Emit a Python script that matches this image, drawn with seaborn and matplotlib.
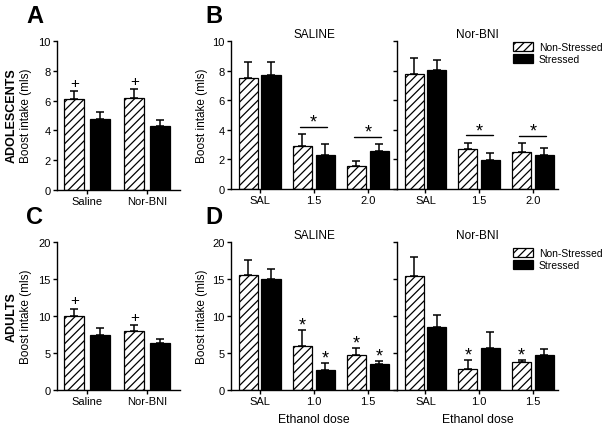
import numpy as np
import pandas as pd
import matplotlib
matplotlib.use("Agg")
import matplotlib.pyplot as plt
from matplotlib.patches import Patch
import seaborn as sns

sns.set_style("ticks")
plt.rcParams['font.family'] = ['Liberation Sans', 'DejaVu Sans']
plt.rcParams['hatch.linewidth'] = 0.9
plt.rcParams['axes.linewidth'] = 1.0
for k in ['text.color', 'axes.labelcolor', 'xtick.color', 'ytick.color', 'axes.edgecolor']:
    plt.rcParams[k] = 'black'

#%% data
groups = ['Non-Stressed', 'Stressed']
treat = ['Saline', 'Nor-BNI']

# A - adolescents, intake
A_ns = [6.1, 6.15]
A_ns_err = [0.55, 0.6]
A_s = [4.75, 4.3]
A_s_err = [0.5, 0.4]

# C - adults, intake
C_ns = [10.05, 8.0]
C_ns_err = [0.95, 0.8]
C_s = [7.45, 6.35]
C_s_err = [0.95, 0.55]

# B - adolescents, ethanol dose
B_doses = ['SAL', '1.5', '2.0']
B_sal_ns = [7.5, 2.9, 1.58]
B_sal_ns_err = [1.1, 0.8, 0.28]
B_sal_s = [7.7, 2.33, 2.56]
B_sal_s_err = [0.9, 0.7, 0.47]
B_nor_ns = [7.8, 2.69, 2.49]
B_nor_ns_err = [1.07, 0.45, 0.6]
B_nor_s = [8.03, 1.99, 2.28]
B_nor_s_err = [0.7, 0.41, 0.52]

# D - adults, ethanol dose
D_doses = ['SAL', '1.0', '1.5']
D_sal_ns = [15.5, 5.92, 4.74]
D_sal_ns_err = [2.1, 2.2, 0.91]
D_sal_s = [15.0, 2.73, 3.5]
D_sal_s_err = [1.3, 0.91, 0.46]
D_nor_ns = [15.4, 2.87, 3.78]
D_nor_ns_err = [2.6, 1.13, 0.27]
D_nor_s = [8.47, 5.65, 4.69]
D_nor_s_err = [1.68, 2.15, 0.87]

W, H = 612, 431
fig = plt.figure(figsize=(W / 100, H / 100), dpi=100)


def px_axes(x0, y0, x1, y1, **kw):
    # pixel box (left, top, right, bottom) -> figure axes
    return fig.add_axes([x0 / W, 1 - y1 / H, (x1 - x0) / W, (y1 - y0) / H], **kw)


def bars(ax, cats, ns, ns_err, s, s_err, gap):
    df = pd.DataFrame({'cat': cats * 2,
                       'group': [groups[0]] * len(cats) + [groups[1]] * len(cats),
                       'val': ns + s})
    sns.barplot(data=df, x='cat', y='val', hue='group', order=cats, hue_order=groups,
                palette={groups[0]: 'white', groups[1]: 'black'}, saturation=1,
                edgecolor='black', linewidth=0.9, width=0.84, gap=gap,
                errorbar=None, legend=False, ax=ax)
    tops = []
    for cont, vals, errs in zip(ax.containers[:2], [ns, s], [ns_err, s_err]):
        xs = [b.get_x() + b.get_width() / 2 for b in cont]
        if vals is ns:
            for b in cont:
                b.set_hatch('////')
        ax.errorbar(xs, vals, yerr=[np.zeros(len(vals)), errs], fmt='none',
                    ecolor='black', elinewidth=1.1, capsize=2.6, capthick=1.1, zorder=3)
        tops.append([(x, v + e) for x, v, e in zip(xs, vals, errs)])
    ax.set_xlabel('')
    ax.set_ylabel('')
    ax.tick_params(direction='out', length=3, width=1, labelsize=8, pad=1.5)
    sns.despine(ax=ax)
    return tops


def mark(ax, x, y, txt, size, off):
    ax.annotate(txt, xy=(x, y), xytext=(0, off), textcoords='offset points',
                ha='center', va='baseline', fontsize=size)


def sig_line(ax, tops, i):
    y = max(tops[0][i][1], tops[1][i][1])
    ymax = ax.get_ylim()[1]
    ly = y + 0.05 * ymax
    x0 = tops[0][i][0] - 0.04
    x1 = tops[1][i][0] + 0.04
    ax.plot([x0, x1], [ly, ly], color='black', lw=1.0)
    mark(ax, (x0 + x1) / 2, ly, '*', 13, 0)


#%% panel A
axA = px_axes(57, 42, 180, 191)
tA = bars(axA, treat, A_ns, A_ns_err, A_s, A_s_err, 0.2)
axA.set_ylim(0, 10)
axA.set_yticks([0, 2, 4, 6, 8, 10])
axA.set_xlim(-0.5, 1.55)
for x, y in tA[0]:
    mark(axA, x, y, '+', 11, 3)

#%% panel C
axC = px_axes(57, 243, 180, 391)
tC = bars(axC, treat, C_ns, C_ns_err, C_s, C_s_err, 0.2)
axC.set_ylim(0, 20)
axC.set_yticks([0, 5, 10, 15, 20])
axC.set_xlim(-0.5, 1.55)
for x, y in tC[0]:
    mark(axC, x, y, '+', 11, 3)

#%% panel B
axB1 = px_axes(231, 42, 397, 190)
axB2 = px_axes(397, 42, 558, 190)
tB1 = bars(axB1, B_doses, B_sal_ns, B_sal_ns_err, B_sal_s, B_sal_s_err, 0.16)
tB2 = bars(axB2, B_doses, B_nor_ns, B_nor_ns_err, B_nor_s, B_nor_s_err, 0.16)
for ax, t in [(axB1, 'SALINE'), (axB2, 'Nor-BNI')]:
    ax.set_ylim(0, 10)
    ax.set_yticks([0, 2, 4, 6, 8, 10])
    ax.set_title(t, fontsize=8.5, pad=3)
axB1.set_xlim(-0.53, 2.54)
axB2.set_xlim(-0.53, 2.47)
axB2.tick_params(labelleft=False)
for ax, t in [(axB1, tB1), (axB2, tB2)]:
    for i in [1, 2]:
        sig_line(ax, t, i)

#%% panel D
axD1 = px_axes(231, 243, 397, 391)
axD2 = px_axes(397, 243, 558, 391)
tD1 = bars(axD1, D_doses, D_sal_ns, D_sal_ns_err, D_sal_s, D_sal_s_err, 0.16)
tD2 = bars(axD2, D_doses, D_nor_ns, D_nor_ns_err, D_nor_s, D_nor_s_err, 0.16)
for ax, t in [(axD1, 'SALINE'), (axD2, 'Nor-BNI')]:
    ax.set_ylim(0, 20)
    ax.set_yticks([0, 5, 10, 15, 20])
    ax.set_title(t, fontsize=8.5, pad=3)
    ax.set_xlabel('Ethanol dose', fontsize=8.8, labelpad=5)
axD1.set_xlim(-0.53, 2.54)
axD2.set_xlim(-0.53, 2.47)
axD2.tick_params(labelleft=False)
for i in [1, 2]:
    for k in [0, 1]:
        mark(axD1, tD1[k][i][0], tD1[k][i][1], '*', 13, 0.5)
    mark(axD2, tD2[0][i][0], tD2[0][i][1], '*', 13, 0.5)

#%% labels / letters / legends
for x, y, l in [(26, 23, 'A'), (205, 23, 'B'), (26, 224, 'C'), (205, 224, 'D')]:
    fig.text(x / W, 1 - y / H, l, fontsize=17, fontweight='bold', va='baseline')

fig.text(12 / W, 1 - 116 / H, 'ADOLESCENTS', rotation=90, ha='center', va='center',
         fontsize=9, fontweight='bold')
fig.text(12 / W, 1 - 317 / H, 'ADULTS', rotation=90, ha='center', va='center',
         fontsize=9, fontweight='bold')
for x, y in [(26, 116), (26, 317), (202, 116), (202, 317)]:
    fig.text(x / W, 1 - y / H, 'Boost intake (mls)', rotation=90, ha='center',
             va='center', fontsize=8.5)

handles = [Patch(facecolor='white', edgecolor='black', hatch='////', lw=0.9),
           Patch(facecolor='black', edgecolor='black', lw=0.9)]
for y in [43, 249]:
    fig.legend(handles, groups, loc='upper left', bbox_to_anchor=(513 / W, 1 - y / H),
               frameon=False, fontsize=7.5, handlelength=1.9, handleheight=0.9,
               handletextpad=0.6, labelspacing=0.2, borderpad=0, borderaxespad=0)

fig.savefig('out.png', dpi=100)
